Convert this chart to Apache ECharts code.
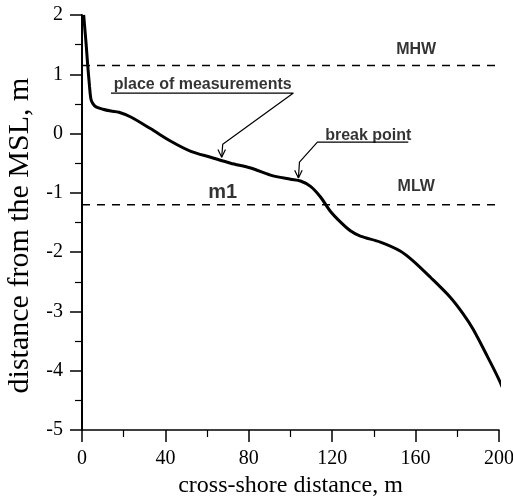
<!DOCTYPE html>
<html>
<head>
<meta charset="utf-8">
<script src="https://cdn.jsdelivr.net/npm/echarts@6/dist/echarts.min.js"></script>
<style>html,body{margin:0;padding:0;background:#fff;}#c{width:513px;height:497px;}</style>
</head>
<body>
<div id="c"></div>
<script>
// Profile data (cross-shore distance, m ; elevation, m)
var profileX = [0.8, 2.0, 2.7, 3.6, 4.3, 5.3, 6.7, 10, 13.9, 17.7, 23.4, 33.0, 42.6, 52.2, 61.7, 71.3, 80.9, 90.4, 100, 104.8, 109.6, 114.4, 119.1, 123.9, 128.7, 133.5, 143.1, 152.6, 158.9, 167, 176.6, 182.8, 187.6, 194.3, 200.5, 206.2];
var profileY = [2.0, 1.5, 1.17, 0.8, 0.58, 0.50, 0.45, 0.41, 0.38, 0.36, 0.28, 0.08, -0.13, -0.30, -0.40, -0.50, -0.58, -0.70, -0.77, -0.80, -0.89, -1.07, -1.31, -1.49, -1.64, -1.73, -1.83, -1.98, -2.15, -2.42, -2.76, -3.04, -3.30, -3.75, -4.19, -4.70];

var levelNames = ['MHW', 'MLW'];
var levelValues = [1.15, -1.2];
var levelLabelX = [160.3, 160.3];
var levelLabelY = [1.42, -0.90];

var annotTexts = ['place of measurements', 'break point', 'm1'];
var annotX = [57.9, 137.3, 67.5];
var annotY = [0.83, -0.04, -1.0];

// leader lines: [underline start, underline end / bend start, bend, tip]
var leader1 = [[13.9, 0.683], [101.4, 0.683], [67.5, -0.18], [67.0, -0.40]];
var leader2 = [[156.5, -0.143], [112.9, -0.143], [104.3, -0.48], [103.8, -0.75]];

var xTicks = {min: 0, max: 200, interval: 40};
var yTicks = {min: -5, max: 2, interval: 1};

function arrowHead(tip) {
  return [[tip[0] - 1.8, tip[1] + 0.13], tip, [tip[0] + 1.8, tip[1] + 0.13]];
}

var chart = echarts.init(document.getElementById('c'), null, {renderer: 'canvas'});
var profile = profileX.map(function (x, i) { return [x, profileY[i]]; });
var serif = 'Liberation Serif';
var sans = 'Liberation Sans';

var series = [
  {
    type: 'line', data: profile, smooth: 0.3, showSymbol: false, clip: false,
    lineStyle: {color: '#000', width: 3}, z: 5
  }
];
levelValues.forEach(function (v, i) {
  series.push({
    type: 'line', data: [[0, v], [199, v]], showSymbol: false, clip: false,
    lineStyle: {color: '#000', width: 1.5, type: [8, 7]}
  });
  series.push({
    type: 'scatter', data: [[levelLabelX[i], levelLabelY[i]]], symbolSize: 0,
    label: {show: true, position: 'inside', formatter: levelNames[i], color: '#000',
      fontFamily: sans, fontWeight: 'bold', fontSize: 16}
  });
});
annotTexts.forEach(function (t, i) {
  series.push({
    type: 'scatter', data: [[annotX[i], annotY[i]]], symbolSize: 0,
    label: {show: true, position: 'inside', formatter: t, color: '#000',
      fontFamily: sans, fontWeight: 'bold', fontSize: i === 2 ? 20 : 16}
  });
});
[leader1, leader2].forEach(function (ld) {
  series.push({
    type: 'line', data: ld, showSymbol: false, clip: false,
    lineStyle: {color: '#000', width: 1.2}
  });
  series.push({
    type: 'line', data: arrowHead(ld[ld.length - 1]), showSymbol: false, clip: false,
    lineStyle: {color: '#000', width: 1.2}
  });
});

chart.setOption({
  animation: false,
  backgroundColor: '#fff',
  textStyle: {fontFamily: serif},
  grid: {left: 82, right: 14, top: 15, bottom: 67, containLabel: false, outerBoundsMode: 'none'},
  xAxis: {
    type: 'value', min: xTicks.min, max: xTicks.max, interval: xTicks.interval,
    name: 'cross-shore distance, m', nameLocation: 'middle', nameGap: 28,
    nameTextStyle: {fontFamily: serif, fontSize: 24, color: '#000'},
    axisLine: {show: true, onZero: false, lineStyle: {color: '#000', width: 1.5}},
    axisTick: {show: true, length: 12, lineStyle: {color: '#000', width: 1.5}},
    minorTick: {show: true, splitNumber: 2, length: 7, lineStyle: {color: '#000', width: 1.2}},
    axisLabel: {show: true, fontFamily: serif, fontSize: 20, color: '#000', margin: 19},
    splitLine: {show: false}
  },
  yAxis: {
    type: 'value', min: yTicks.min, max: yTicks.max, interval: yTicks.interval,
    name: 'distance from the MSL, m', nameLocation: 'middle', nameGap: 46,
    nameTextStyle: {fontFamily: serif, fontSize: 30, color: '#000', padding: [0, 26, 0, 0]},
    axisLine: {show: true, onZero: false, lineStyle: {color: '#000', width: 2}},
    axisTick: {show: true, length: 12, lineStyle: {color: '#000', width: 1.5}},
    minorTick: {show: true, splitNumber: 2, length: 7, lineStyle: {color: '#000', width: 1.2}},
    axisLabel: {show: true, fontFamily: serif, fontSize: 20, color: '#000', margin: 19},
    splitLine: {show: false}
  },
  series: series
});
</script>
</body>
</html>
